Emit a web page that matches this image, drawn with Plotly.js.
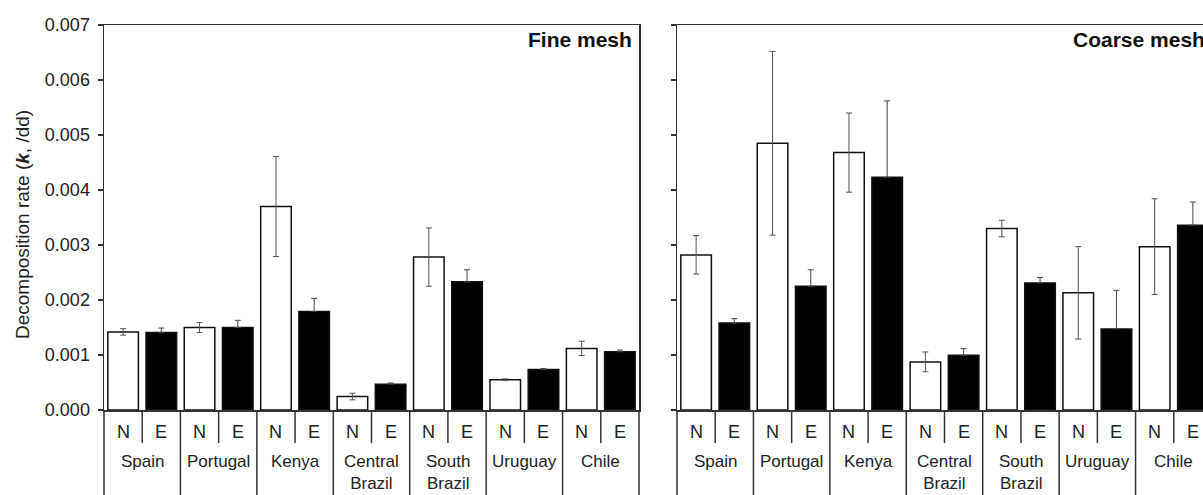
<!DOCTYPE html>
<html>
<head>
<meta charset="utf-8">
<script src="https://cdn.plot.ly/plotly-3.0.1.min.js"></script>
<style>
html,body{margin:0;padding:0;overflow:hidden;background:#fff;}
#chart{width:1216px;height:495px;}
</style>
</head>
<body>
<div id="chart"></div>
<script>
// ---- data ----
const regions = ['Spain', 'Portugal', 'Kenya', 'Central<br>Brazil', 'South<br>Brazil', 'Uruguay', 'Chile'];
const treatments = ['N', 'E'];
const panelTitles = ['Fine mesh', 'Coarse mesh'];
const yTitle = 'Decomposition rate (<b><i>k</i></b>, /dd)';
const yTicks = [0, 0.001, 0.002, 0.003, 0.004, 0.005, 0.006, 0.007];

const fineN      = [0.00142, 0.00150, 0.00370, 0.000245, 0.00278, 0.00055, 0.00112];
const fineNErr   = [0.00006, 0.00009, 0.00091, 0.00006, 0.00053, 0.000015, 0.00013];
const fineE      = [0.00141, 0.00150, 0.00179, 0.00047, 0.00233, 0.000735, 0.00106];
const fineEErr   = [0.00008, 0.00013, 0.00024, 0.00002, 0.00022, 0.00002, 0.00003];
const coarseN    = [0.00282, 0.00485, 0.00468, 0.000875, 0.00330, 0.00213, 0.00297];
const coarseNErr = [0.00035, 0.00167, 0.00072, 0.00018, 0.00015, 0.00084, 0.00087];
const coarseE    = [0.00158, 0.00225, 0.00423, 0.000995, 0.00231, 0.001475, 0.00336];
const coarseEErr = [0.00008, 0.00030, 0.00139, 0.00012, 0.00010, 0.00070, 0.00042];

// ---- build ----
const FONT = 'Liberation Sans, Arial, sans-serif';
const nG = regions.length;
const posN = regions.map((_, i) => 2 * i);
const posE = regions.map((_, i) => 2 * i + 1);

// lower whisker of a black bar is hidden inside the bar in the reference
function barTrace(x, y, err, fill, errColor, xa, ya, hideLower) {
  const ey = {type: 'data', array: err, visible: true, color: errColor, thickness: 1, width: 3};
  if (hideLower) { ey.symmetric = false; ey.arrayminus = err.map(() => 0); }
  return {
    type: 'bar', x: x, y: y, xaxis: xa, yaxis: ya, width: 0.8,
    marker: {color: fill, line: {color: '#111', width: 1.5}},
    error_y: ey, showlegend: false, hoverinfo: 'y'
  };
}

const traces = [
  barTrace(posN, fineN, fineNErr, '#ffffff', '#555', 'x', 'y', false),
  barTrace(posE, fineE, fineEErr, '#000000', '#444', 'x', 'y', true),
  barTrace(posN, coarseN, coarseNErr, '#ffffff', '#555', 'x2', 'y2', false),
  barTrace(posE, coarseE, coarseEErr, '#000000', '#444', 'x2', 'y2', true)
];

const LINE = '#333';
function xAx(domain, anchor) {
  return {domain: domain, anchor: anchor, range: [-0.5, 2 * nG - 0.5], showline: true, mirror: true,
          linecolor: LINE, linewidth: 1.5, showticklabels: false, ticks: '',
          showgrid: false, zeroline: false, fixedrange: true};
}
function yAx(anchor, labels) {
  return {anchor: anchor, range: [0, 0.007], tickvals: yTicks, tickformat: '.3f',
          showticklabels: labels, ticks: 'outside', ticklen: 5, tickwidth: 1.2, tickcolor: LINE,
          ticklabelstandoff: 4,
          showline: true, mirror: true, linecolor: LINE, linewidth: 1.5,
          showgrid: false, zeroline: false, fixedrange: true,
          tickfont: {family: FONT, size: 18, color: '#222'}};
}

const W = 1216, H = 495, L = 104, R = 4, T = 25, B = 85;
const pw = W - L - R;
const plotH = H - T - B;
const pyToPaper = p => -(p - (H - B)) / plotH;
const pxToPaper = p => (p - L) / pw;

const shapes = [];
const annotations = [];
['x', 'x2'].forEach((xa, pi) => {
  const dref = xa + ' domain';
  for (let g = 0; g <= nG; g++) {
    shapes.push({type: 'line', xref: dref, yref: 'paper', x0: g / nG, x1: g / nG,
                 y0: 0, y1: pyToPaper(500), line: {color: LINE, width: 1.5}});
  }
  for (let g = 0; g < nG; g++) {
    shapes.push({type: 'line', xref: dref, yref: 'paper', x0: (2 * g + 1) / (2 * nG), x1: (2 * g + 1) / (2 * nG),
                 y0: 0, y1: pyToPaper(443), line: {color: LINE, width: 1.5}});
  }
  for (let g = 0; g < nG; g++) {
    treatments.forEach((t, k) => {
      annotations.push({xref: xa, yref: 'paper', x: 2 * g + k, y: pyToPaper(432),
        yanchor: 'middle', text: t, showarrow: false,
        font: {family: FONT, size: 18, color: '#222'}});
    });
    annotations.push({xref: xa, yref: 'paper', x: 2 * g + 0.5, y: pyToPaper(451),
      yanchor: 'top', text: regions[g], showarrow: false, borderpad: 0,
      font: {family: FONT, size: 17, color: '#222'}});
  }
  annotations.push({xref: dref, yref: 'paper', x: 1, y: 1, xanchor: 'right', yanchor: 'top',
    xshift: -5, yshift: -1, text: '<b>' + panelTitles[pi] + '</b>', showarrow: false,
    font: {family: FONT, size: 21, color: '#111'}});
});

// y-axis title
annotations.push({xref: 'paper', yref: 'paper', x: pxToPaper(23), y: pyToPaper(225),
  xanchor: 'center', yanchor: 'middle', textangle: -90, text: yTitle, showarrow: false,
  font: {family: FONT, size: 19, color: '#222'}});

const layout = {
  width: W, height: H,
  margin: {l: L, r: R, t: T, b: B},
  paper_bgcolor: '#fff', plot_bgcolor: '#fff',
  barmode: 'overlay',
  xaxis: xAx([0, 535 / pw], 'y'),
  xaxis2: xAx([573 / pw, 1], 'y2'),
  yaxis: yAx('x', true),
  yaxis2: yAx('x2', false),
  shapes: shapes,
  annotations: annotations
};

Plotly.newPlot('chart', traces, layout, {staticPlot: true, displayModeBar: false});
</script>
</body>
</html>
